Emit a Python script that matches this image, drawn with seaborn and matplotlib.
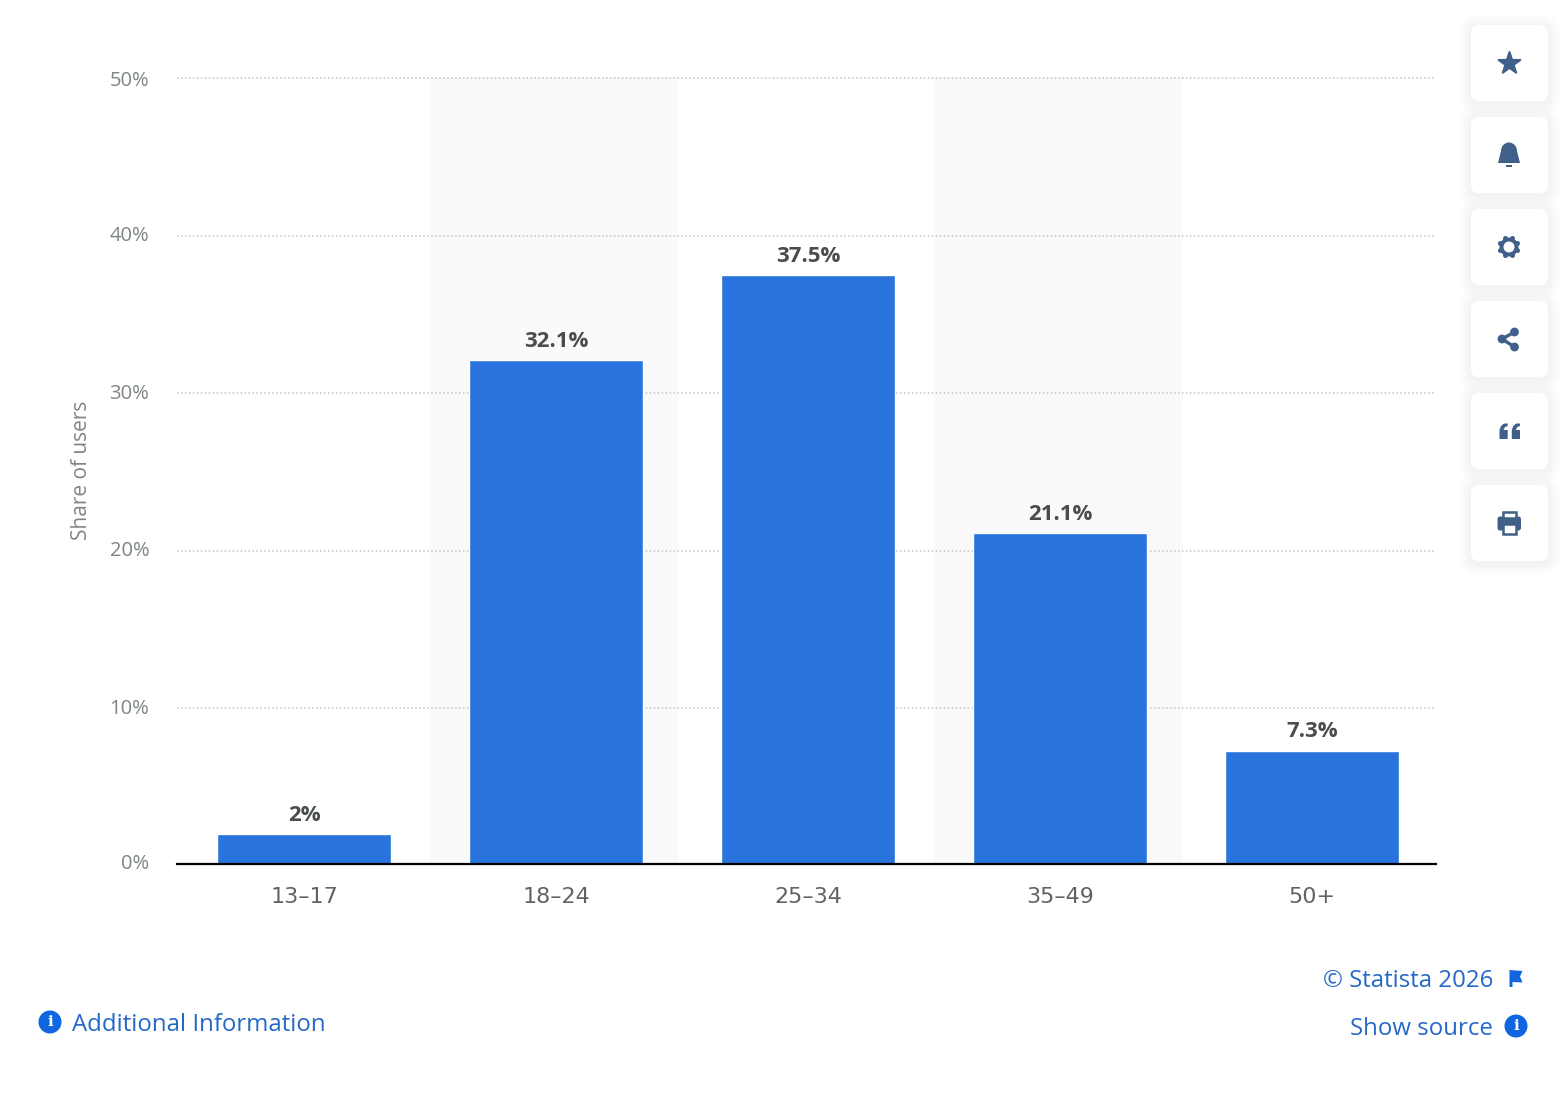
import math
import matplotlib
matplotlib.use("Agg")
import matplotlib.pyplot as plt
from matplotlib.patches import FancyBboxPatch, Circle, Polygon, Rectangle, Ellipse
from matplotlib.transforms import ScaledTranslation
import pandas as pd
import seaborn as sns

age_groups = ["13-17", "18-24", "25-34", "35-49", "50+"]
tick_labels = ["13\u201317", "18\u201324", "25\u201334", "35\u201349", "50+"]
shares = [2, 32.1, 37.5, 21.1, 7.3]
value_labels = ["2%", "32.1%", "37.5%", "21.1%", "7.3%"]
grid_ticks = [10, 20, 30, 40, 50]
y_tick_labels = ["0%", "10%", "20%", "30%", "40%", "50%"]

W, H = 1566, 1100
BLUE = "#2974dc"
LINK = "#2468c8"
ICON = "#40608a"
INFO = "#0f66e0"

sns.set_theme(style="white")
plt.rcParams["font.family"] = ["Open Sans", "DejaVu Sans"]

fig = plt.figure(figsize=(W / 100, H / 100), dpi=100, facecolor="white")
L, R, T, B = 177, 1436, 78, 863.5
ax = fig.add_axes([L / W, 1 - B / H, (R - L) / W, (B - T) / H])
df = pd.DataFrame({"age": age_groups, "share": shares})

ax.axvspan(0.496, 1.488, color="#fafafb", lw=0, zorder=0)
ax.axvspan(2.496, 3.488, color="#fafafb", lw=0, zorder=0)
sns.barplot(data=df, x="age", y="share", color=BLUE, saturation=1, width=0.692,
            ax=ax, zorder=3)
ax.set_xlim((L - 304) / 252, (R - 304) / 252)
# the source's zero line sits just above the value zero of its grid
y_floor = 0.127
ax.set_ylim(y_floor, 50)
ax.set_yticks([y_floor] + grid_ticks)
ax.set_yticklabels(y_tick_labels, fontsize=14.5, color="#7f8585")
ax.set_xticks(range(5))
ax.set_xticklabels(tick_labels, fontsize=16, color="#5f6363", family="DejaVu Sans")
ax.tick_params(axis="both", length=0)
ax.tick_params(axis="y", pad=20)
ax.tick_params(axis="x", pad=17)
shift = ScaledTranslation(0, 1.3 / 72, fig.dpi_scale_trans)
for lab in ax.get_yticklabels()[:-1]:
    lab.set_transform(lab.get_transform() + shift)
for v in grid_ticks:
    ax.axhline(v, color="#bfc2c2", lw=1.1, ls=(0, (1, 1.6)), zorder=1, clip_on=False)
for s in ["top", "left", "right"]:
    ax.spines[s].set_visible(False)
ax.spines["bottom"].set_color("#000000")
ax.spines["bottom"].set_linewidth(1.6)
ax.spines["bottom"].set_zorder(5)
ax.set_xlabel("")
ax.set_ylabel("Share of users", fontsize=15, color="#7f8585", labelpad=0)
ax.yaxis.set_label_coords((92 - L) / (R - L), (B - 470) / (B - T))

for c, lab in zip(ax.containers[0], value_labels):
    ax.annotate(lab, (c.get_x() + c.get_width() / 2, c.get_height()),
                xytext=(0, 6), textcoords="offset points", ha="center", va="bottom",
                fontsize=16, fontweight="bold", color="#4a4d4d", zorder=6)

# page furniture in pixel coordinates
ov = fig.add_axes([0, 0, 1, 1], facecolor="none")
ov.set_xlim(0, W)
ov.set_ylim(H, 0)
ov.axis("off")

ov.text(326, 1025, "Additional Information", color=LINK, fontsize=17.3, ha="right", va="center")
ov.text(1493, 981, "\u00a9 Statista 2026", color=LINK, fontsize=17.3, ha="right", va="center")
ov.text(1493, 1029, "Show source", color=LINK, fontsize=17.3, ha="right", va="center")


def info(cx, cy):
    ov.add_patch(Circle((cx, cy), 11.5, color=INFO, lw=0))
    ov.text(cx, cy + 0.5, "i", color="white", fontsize=11, fontweight="bold",
            ha="center", va="center", family="DejaVu Serif")


info(50, 1022)
info(1516, 1026)
ov.add_patch(Polygon([(1509.5, 970), (1522.5, 971), (1520, 976.5), (1522.5, 982.5), (1512.5, 982),
                      (1512.5, 987), (1509.5, 987)], color=INFO, lw=0))

for top in [25, 117, 209, 301, 393, 485]:
    for g in range(12, 0, -2):
        ov.add_patch(FancyBboxPatch((1471 - g, top - g + 2), 77 + 2 * g, 76 + 2 * g,
                                    boxstyle=f"round,pad=0,rounding_size={8 + g}",
                                    fc="#38527a", ec="none", alpha=0.006))
    ov.add_patch(FancyBboxPatch((1471, top), 77, 76, boxstyle="round,pad=0,rounding_size=8",
                                fc="white", ec="none"))

# star
ov.scatter([1509], [63], marker="*", s=270, color=ICON, edgecolors=ICON, lw=1.5)
# bell
ov.add_patch(Ellipse((1509, 151), 16, 17, color=ICON, lw=0))
ov.add_patch(Polygon([(1501, 151), (1517, 151), (1520, 163), (1498, 163)], color=ICON, lw=0))
ov.add_patch(Rectangle((1506, 165), 6, 1.6, color=ICON, lw=0))
# gear
ov.add_patch(Circle((1509, 247), 9.5, color=ICON, lw=0))
for k in range(8):
    a = math.radians(45 * k + 22.5)
    ov.add_patch(Circle((1509 + 9.3 * math.cos(a), 247 + 9.3 * math.sin(a)), 2.4, color=ICON, lw=0))
ov.add_patch(Circle((1509, 247), 5.5, color="white", lw=0))
# share
ov.plot([1514.5, 1502, 1514.5], [332, 339, 347], color=ICON, lw=2.4)
for x, y in [(1514.5, 332), (1502, 339), (1514.5, 347)]:
    ov.add_patch(Circle((x, y), 4.4, color=ICON, lw=0))
# quotation mark
for dx in (0, 12.3):
    ov.add_patch(Polygon([(1499.5 + dx, 439), (1499.5 + dx, 430), (1501 + dx, 426), (1504 + dx, 423.5),
                          (1507.7 + dx, 423.5), (1507.7 + dx, 426), (1505 + dx, 427), (1503.5 + dx, 430),
                          (1507.7 + dx, 430), (1507.7 + dx, 439)], color=ICON, lw=0))
# printer
ov.add_patch(FancyBboxPatch((1497.5, 516.5), 23.5, 14, boxstyle="round,pad=0,rounding_size=2.5",
                            fc=ICON, ec="none"))
ov.add_patch(Rectangle((1503, 512), 13, 6, fc="white", ec=ICON, lw=1.8))
ov.add_patch(Rectangle((1503, 524), 13, 10, fc="white", ec=ICON, lw=1.8))

fig.savefig("out.png", dpi=100, facecolor="white")
